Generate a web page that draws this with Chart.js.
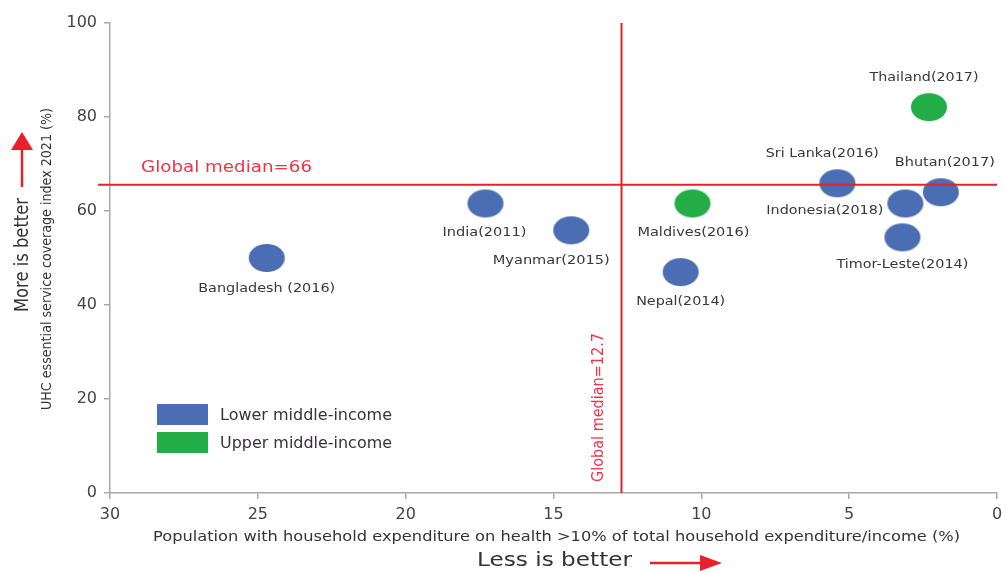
<!DOCTYPE html>
<html><head><meta charset="utf-8">
<script src="https://cdn.jsdelivr.net/npm/chart.js@4.4.0/dist/chart.umd.min.js"></script>
<style>html,body{margin:0;padding:0;background:#fff;overflow:hidden;} canvas{display:block;}</style>
</head><body><canvas id="c" width="1006" height="572"></canvas>
<script>
// ---------- data ----------
const lowerNames = ['Bangladesh (2016)', 'India(2011)', 'Myanmar(2015)', 'Nepal(2014)', 'Sri Lanka(2016)', 'Indonesia(2018)', 'Bhutan(2017)', 'Timor-Leste(2014)'];
const lowerExpenditure = [24.7, 17.3, 14.4, 10.7, 5.4, 3.1, 1.9, 3.2];
const lowerUHC = [50.0, 61.6, 55.9, 47.0, 65.9, 61.6, 64.0, 54.4];
const upperNames = ['Maldives(2016)', 'Thailand(2017)'];
const upperExpenditure = [10.3, 2.3];
const upperUHC = [61.6, 82.1];
const medianUHC = 65.6;
const medianUHCLabel = 'Global median=66';
const medianExp = 12.7;
const medianExpLabel = 'Global median=12.7';
const xTickValues = [30, 25, 20, 15, 10, 5, 0];
const yTickValues = [0, 20, 40, 60, 80, 100];
const groupNames = ['Lower middle-income', 'Upper middle-income'];
const xTitle = 'Population with household expenditure on health >10% of total household expenditure/income (%)';
const yTitle = 'UHC essential service coverage index 2021 (%)';
const xNote = 'Less is better';
const yNote = 'More is better';

// ---------- styles ----------
const BLUE = '#4a6db4', GREEN = '#22ad47', RED = '#e8202c', RED_TXT = '#ef3448';
const AXIS = '#a8a8a8', TXT = '#444';
const FONT = '"DejaVu Sans", "Open Sans", sans-serif';
// label placement relative to bubble centre: [dx, dy, align, rendered width]
const labelPlace = {
  'Bangladesh (2016)': [0, 31, 'center', 137],
  'India(2011)': [-1, 29, 'center', 84],
  'Myanmar(2015)': [-20, 30, 'center', 117],
  'Nepal(2014)': [0, 30, 'center', 89],
  'Sri Lanka(2016)': [-15, -30, 'center', 113],
  'Indonesia(2018)': [-22, 7, 'right', 117],
  'Bhutan(2017)': [4, -30, 'center', 100],
  'Timor-Leste(2014)': [0, 27, 'center', 132],
  'Maldives(2016)': [1, 29, 'center', 112],
  'Thailand(2017)': [-5, -30, 'center', 109]
};

function ellipse(color) {
  const c = document.createElement('canvas');
  c.width = 38; c.height = 30;
  const g = c.getContext('2d');
  g.fillStyle = color;
  g.beginPath(); g.ellipse(19, 15, 18, 14, 0, 0, Math.PI * 2); g.fill();
  return c;
}

// draw text squeezed/stretched horizontally to a given width
function fitText(ctx, text, x, y, width, align) {
  const w = ctx.measureText(text).width;
  const s = width / w;
  ctx.save();
  ctx.translate(x, y);
  ctx.scale(s, 1);
  ctx.textAlign = align;
  ctx.fillText(text, 0, 0);
  ctx.restore();
}

const overlay = {
  id: 'overlay',
  afterDatasetsDraw(chart) {
    const {ctx, chartArea: ca, scales: {x, y}} = chart;
    ctx.save();
    ctx.textBaseline = 'middle';
    // median lines
    ctx.strokeStyle = RED; ctx.lineWidth = 2;
    const yM = y.getPixelForValue(medianUHC);
    ctx.beginPath(); ctx.moveTo(ca.left - 12, yM); ctx.lineTo(ca.right, yM); ctx.stroke();
    const xM = x.getPixelForValue(medianExp);
    ctx.beginPath(); ctx.moveTo(xM, ca.top); ctx.lineTo(xM, ca.bottom); ctx.stroke();
    ctx.fillStyle = RED_TXT;
    ctx.font = '16px ' + FONT;
    fitText(ctx, medianUHCLabel, ca.left + 31, yM - 17, 171, 'left');
    ctx.save();
    ctx.translate(xM - 23, ca.bottom - 11);
    ctx.rotate(-Math.PI / 2);
    fitText(ctx, medianExpLabel, 0, 0, 149, 'left');
    ctx.restore();

    // point labels
    ctx.fillStyle = '#383838';
    ctx.font = '13px ' + FONT;
    chart.data.datasets.forEach((ds, di) => {
      const meta = chart.getDatasetMeta(di);
      meta.data.forEach((pt, i) => {
        const name = ds.names[i];
        const p = labelPlace[name] || [0, 28, 'center', null];
        fitText(ctx, name, pt.x + p[0], pt.y + p[1], p[3] || ctx.measureText(name).width, p[2]);
      });
    });

    // legend (inside plot)
    ctx.font = '15px ' + FONT;
    chart.data.datasets.forEach((ds, di) => {
      const top = 404 + di * 28;
      ctx.fillStyle = ds.backgroundColor;
      ctx.fillRect(157, top, 51, 21);
      ctx.fillStyle = '#3a3040';
      fitText(ctx, ds.label, 220, top + 12, 172, 'left');
    });

    // axis titles
    ctx.fillStyle = '#333';
    ctx.font = '13.5px ' + FONT;
    fitText(ctx, xTitle, 556.5, 537, 807, 'center');
    ctx.font = '19px ' + FONT;
    fitText(ctx, xNote, 554.5, 561, 155, 'center');

    ctx.save();
    ctx.translate(47, 259);
    ctx.rotate(-Math.PI / 2);
    ctx.font = '14px ' + FONT;
    fitText(ctx, yTitle, 0, 0, 302, 'center');
    ctx.restore();

    ctx.save();
    ctx.translate(23, 255);
    ctx.rotate(-Math.PI / 2);
    ctx.font = '19px ' + FONT;
    fitText(ctx, yNote, 0, 0, 114, 'center');
    ctx.restore();

    // arrows
    ctx.fillStyle = RED; ctx.strokeStyle = RED; ctx.lineWidth = 2.5;
    ctx.beginPath(); ctx.moveTo(22, 187); ctx.lineTo(22, 146); ctx.stroke();
    ctx.beginPath(); ctx.moveTo(22, 132); ctx.lineTo(33, 150); ctx.lineTo(11, 150); ctx.closePath(); ctx.fill();
    ctx.beginPath(); ctx.moveTo(650, 563); ctx.lineTo(704, 563); ctx.stroke();
    ctx.beginPath(); ctx.moveTo(722, 563); ctx.lineTo(700, 555); ctx.lineTo(700, 571); ctx.closePath(); ctx.fill();
    ctx.restore();
  }
};

const ctxEl = document.getElementById('c');
new Chart(ctxEl, {
  type: 'scatter',
  data: {
    datasets: [
      { label: groupNames[0], names: lowerNames, backgroundColor: BLUE,
        data: lowerExpenditure.map((v, i) => ({x: v, y: lowerUHC[i]})),
        pointStyle: ellipse(BLUE) },
      { label: groupNames[1], names: upperNames, backgroundColor: GREEN,
        data: upperExpenditure.map((v, i) => ({x: v, y: upperUHC[i]})),
        pointStyle: ellipse(GREEN) }
    ]
  },
  options: {
    responsive: false, animation: false,
    devicePixelRatio: 1,
    layout: { padding: { left: 0, right: 9, top: 23, bottom: 0 } },
    plugins: { legend: { display: false }, tooltip: { enabled: false } },
    events: [],
    scales: {
      x: {
        type: 'linear', reverse: true, min: 0, max: 30,
        afterBuildTicks: s => { s.ticks = xTickValues.map(v => ({value: v})); },
        afterFit: s => { s.height = 79; s.paddingLeft = 0; s.paddingRight = 0; },
        grid: { display: true, drawOnChartArea: false, drawTicks: true, tickLength: 6, color: AXIS, lineWidth: 1.5 },
        border: { display: true, color: AXIS, width: 1.5 },
        ticks: { color: TXT, font: { family: 'DejaVu Sans', size: 16 }, padding: 6, maxRotation: 0 }
      },
      y: {
        type: 'linear', min: 0, max: 100,
        afterBuildTicks: s => { s.ticks = yTickValues.map(v => ({value: v})); },
        afterFit: s => { s.width = 110; s.paddingTop = 0; s.paddingBottom = 0; },
        grid: { display: true, drawOnChartArea: false, drawTicks: true, tickLength: 6, color: AXIS, lineWidth: 1.5 },
        border: { display: true, color: AXIS, width: 1.5 },
        ticks: { color: TXT, font: { family: 'DejaVu Sans', size: 16 }, padding: 7 }
      }
    }
  },
  plugins: [overlay]
});
</script>
</body></html>
